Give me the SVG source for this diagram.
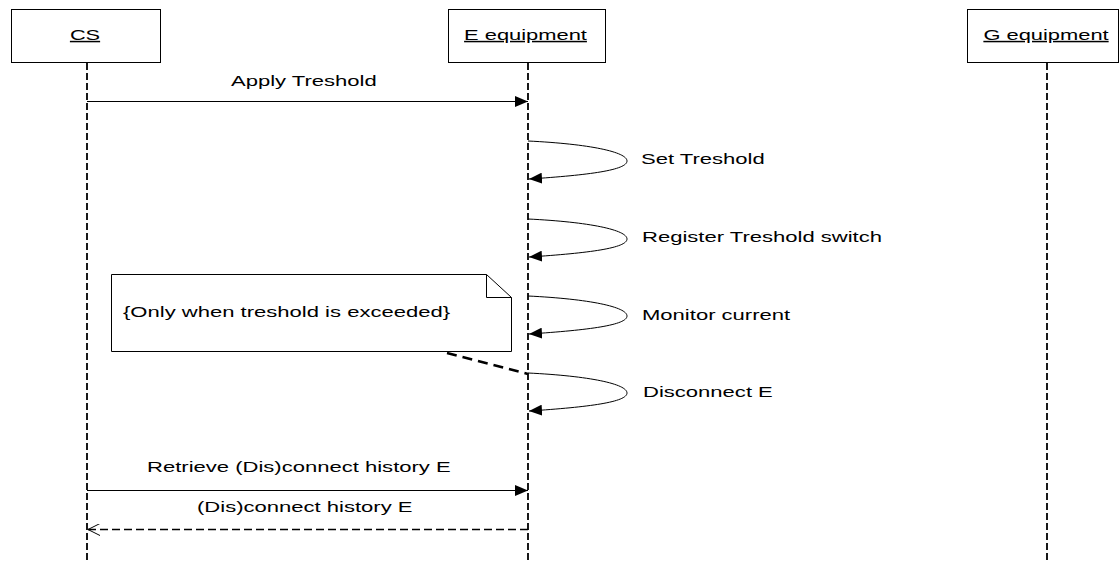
<svg xmlns="http://www.w3.org/2000/svg" width="1120" height="561" viewBox="0 0 1120 561">
<style>
  text { font-family: "Liberation Sans", Arial, sans-serif; font-size: 15px; fill: #000; }
  .hdr { text-decoration: underline; text-anchor: middle; }
  .box { fill: #fff; stroke: #000; stroke-width: 1; }
  .life { stroke: #000; stroke-width: 1.8; stroke-dasharray: 7 3; fill: none; }
  .msg { stroke: #000; stroke-width: 1; fill: none; }
  .ret { stroke: #000; stroke-width: 1.5; stroke-dasharray: 8 4; fill: none; }
  .anchor { stroke: #000; stroke-width: 2.5; stroke-dasharray: 10 6; fill: none; }
</style>
<defs>
  <marker id="filled" markerWidth="14" markerHeight="11" refX="13" refY="5.5" orient="auto" markerUnits="userSpaceOnUse">
    <path d="M0,0 L13,5.5 L0,11 Z" fill="#000"/>
  </marker>
  <marker id="open" markerWidth="14" markerHeight="12" refX="12" refY="6" orient="auto" markerUnits="userSpaceOnUse">
    <path d="M0,0 L12,6 L0,12" fill="none" stroke="#000" stroke-width="1"/>
  </marker>
</defs>
<rect width="1120" height="561" fill="#fff"/>

<g id="lifelines">
  <line class="life" x1="87" y1="63" x2="87" y2="561"/>
  <line class="life" x1="528" y1="63" x2="528" y2="561"/>
  <line class="life" x1="1047" y1="63" x2="1047" y2="561"/>
</g>

<g id="node-cs">
  <rect class="box" x="11.5" y="9.5" width="149" height="53"/>
  <text class="hdr" transform="translate(85,40) scale(1.45,1)">CS</text>
</g>
<g id="node-e">
  <rect class="box" x="448.5" y="9.5" width="157" height="53"/>
  <text class="hdr" transform="translate(525.5,40) scale(1.46,1)">E equipment</text>
</g>
<g id="node-g">
  <rect class="box" x="967.5" y="9.5" width="151" height="53"/>
  <text class="hdr" transform="translate(1046,40) scale(1.46,1)">G equipment</text>
</g>

<g id="note">
  <path class="box" d="M111.5,274.5 L486.5,274.5 L511.5,297.5 L511.5,351.5 L111.5,351.5 Z"/>
  <path d="M486.5,274.5 L486.5,297.5 L511.5,297.5" fill="none" stroke="#000" stroke-width="1"/>
  <text transform="translate(123,317) scale(1.47,1)">{Only when treshold is exceeded}</text>
</g>

<g id="connectors">
  <line class="msg" x1="87" y1="101.5" x2="528" y2="101.5" marker-end="url(#filled)"/>
  <text transform="translate(231,86) scale(1.47,1)">Apply Treshold</text>

  <path class="msg" d="M528,141 C590,144 627,152 627,161 C627,170 590,175 529,179" marker-end="url(#filled)"/>
  <text transform="translate(641,164) scale(1.47,1)">Set Treshold</text>

  <path class="msg" d="M528,219 C590,222 627,230 627,239 C627,248 590,253 529,257" marker-end="url(#filled)"/>
  <text transform="translate(642,242) scale(1.47,1)">Register Treshold switch</text>

  <path class="msg" d="M528,296 C590,299 627,307 627,316 C627,325 590,330 529,334" marker-end="url(#filled)"/>
  <text transform="translate(642,320) scale(1.47,1)">Monitor current</text>

  <path class="msg" d="M528,373 C590,376 627,384 627,393 C627,402 590,407 529,411" marker-end="url(#filled)"/>
  <text transform="translate(643,397) scale(1.47,1)">Disconnect E</text>

  <line class="anchor" x1="447" y1="353" x2="528" y2="374"/>

  <line class="msg" x1="87" y1="490.5" x2="528" y2="490.5" marker-end="url(#filled)"/>
  <text transform="translate(147,472) scale(1.47,1)">Retrieve (Dis)connect history E</text>

  <line class="ret" x1="528" y1="529.5" x2="88" y2="529.5" marker-end="url(#open)"/>
  <text transform="translate(197,512) scale(1.47,1)">(Dis)connect history E</text>
</g>
</svg>
